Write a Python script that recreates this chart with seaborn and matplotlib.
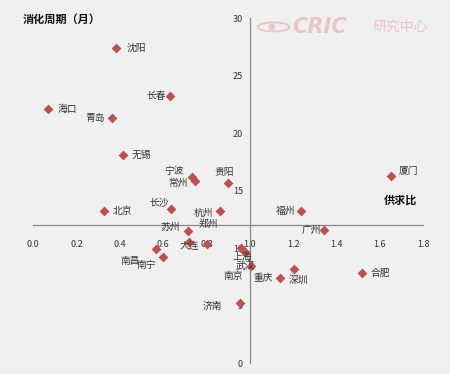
import pandas as pd
import matplotlib
matplotlib.use('Agg')
import matplotlib.pyplot as plt
from matplotlib.patches import Ellipse
import seaborn as sns

# 城市 / 供求比 / 消化周期(月)
cities = ['沈阳', '长春', '海口', '青岛', '无锡', '宁波', '常州', '贵阳', '长沙',
          '北京', '杭州', '郑州', '苏州', '大连', '南昌', '南宁', '上海', '武汉',
          '南京', '济南', '重庆', '深圳', '合肥', '厦门', '福州', '广州']
supply_demand = [0.383, 0.631, 0.066, 0.363, 0.412, 0.731, 0.746, 0.900, 0.637,
                 0.328, 0.863, 0.800, 0.713, 0.719, 0.566, 0.600, 0.957, 0.977,
                 1.005, 0.954, 1.138, 1.203, 1.518, 1.650, 1.235, 1.343]
digest_months = [27.4, 23.2, 22.1, 21.3, 18.1, 16.2, 15.8, 15.7, 13.4,
                 13.2, 13.2, 10.4, 11.5, 10.5, 9.9, 9.2, 10.0, 9.7,
                 8.4, 5.2, 7.4, 8.2, 7.8, 16.3, 13.2, 11.6]
x_ticks = [0.0, 0.2, 0.4, 0.6, 0.8, 1.0, 1.2, 1.4, 1.6, 1.8]
y_ticks = [0, 5, 10, 15, 20, 25, 30]

# label placement: (dx px, dy px downward, ha)
label_pos = {
    '沈阳': (10, 0, 'left'), '长春': (-4, 0, 'right'), '海口': (10, 0, 'left'),
    '青岛': (-7, 0, 'right'), '无锡': (9, 0, 'left'), '宁波': (-8, -6, 'right'),
    '常州': (-7, 1, 'right'), '贵阳': (-4, -11, 'center'), '长沙': (-2, -7, 'right'),
    '北京': (8, 0, 'left'), '杭州': (-7, 2, 'right'), '郑州': (2, -20, 'center'),
    '苏州': (-8, -4, 'right'), '大连': (0, 3, 'center'), '南昌': (-16, 12, 'right'),
    '南宁': (-7, 8, 'right'), '上海': (2, 9, 'center'), '武汉': (0, 14, 'center'),
    '南京': (-18, 9, 'center'), '济南': (-18, 3, 'right'), '重庆': (-7, 0, 'right'),
    '深圳': (4, 11, 'center'), '合肥': (8, 0, 'left'), '厦门': (8, -5, 'left'),
    '福州': (-6, 0, 'right'), '广州': (-3, 0, 'right'),
}

df = pd.DataFrame({'city': cities, 'ratio': supply_demand, 'months': digest_months})

sns.set_style('white')
plt.rcParams['font.family'] = ['Noto Sans CJK SC', 'DejaVu Sans']
bg = '#f0f0f0'

fig = plt.figure(figsize=(4.5, 3.74), dpi=100, facecolor=bg)
ax = fig.add_axes([0.074, 0.0294, 0.8667, 0.9216])
ax.set_facecolor(bg)

sns.scatterplot(data=df, x='ratio', y='months', marker='D', s=25,
                color='#c0504d', edgecolor='#c0504d', linewidth=0, ax=ax, zorder=3)

for c, x, y in zip(cities, supply_demand, digest_months):
    dx, dy, ha = label_pos[c]
    ax.annotate(c, (x, y), xytext=(dx * 0.72, -dy * 0.72), textcoords='offset points',
                ha=ha, va='center', fontsize=7, color='#333333', zorder=4)

ax.set_xlim(0, 1.8)
ax.set_ylim(0, 30)
ax.set_xticks(x_ticks)
ax.set_yticks(y_ticks)
ax.set_xticklabels([f'{v:.1f}' for v in x_ticks], family='DejaVu Sans')
ax.set_yticklabels([str(v) for v in y_ticks], family='DejaVu Sans')
ax.spines['left'].set_position(('data', 1.0))
ax.spines['bottom'].set_position(('data', 12))
ax.spines['right'].set_visible(False)
ax.spines['top'].set_visible(False)
for s in ['left', 'bottom']:
    ax.spines[s].set_color('#888888')
    ax.spines[s].set_linewidth(0.9)
ax.tick_params(axis='both', direction='out', length=3, width=0.8, color='#888888',
               labelsize=6.5, labelcolor='#333333', pad=2)
ax.tick_params(axis='x', pad=8)
ax.set_xlabel('')
ax.set_ylabel('')

fig.text(0.05, 0.947, '消化周期（月）', fontsize=8, fontweight='bold', va='center', color='#111111')
fig.text(0.889, 0.465, '供求比', fontsize=8, fontweight='bold', ha='center', va='center', color='#111111')

# watermark
wm = '#ebc4c6'
fig.add_artist(Ellipse((0.608, 0.928), 0.07, 0.024, transform=fig.transFigure,
                       fill=False, edgecolor=wm, linewidth=1.4))
fig.add_artist(Ellipse((0.604, 0.928), 0.012, 0.014, transform=fig.transFigure,
                       fill=True, color=wm))
fig.text(0.65, 0.928, 'CRIC', fontsize=15, fontweight='heavy', style='italic',
         color=wm, va='center', family='DejaVu Sans')
fig.text(0.827, 0.928, '研究中心', fontsize=10, color=wm, va='center')

fig.savefig('out.png', dpi=100, facecolor=bg)
